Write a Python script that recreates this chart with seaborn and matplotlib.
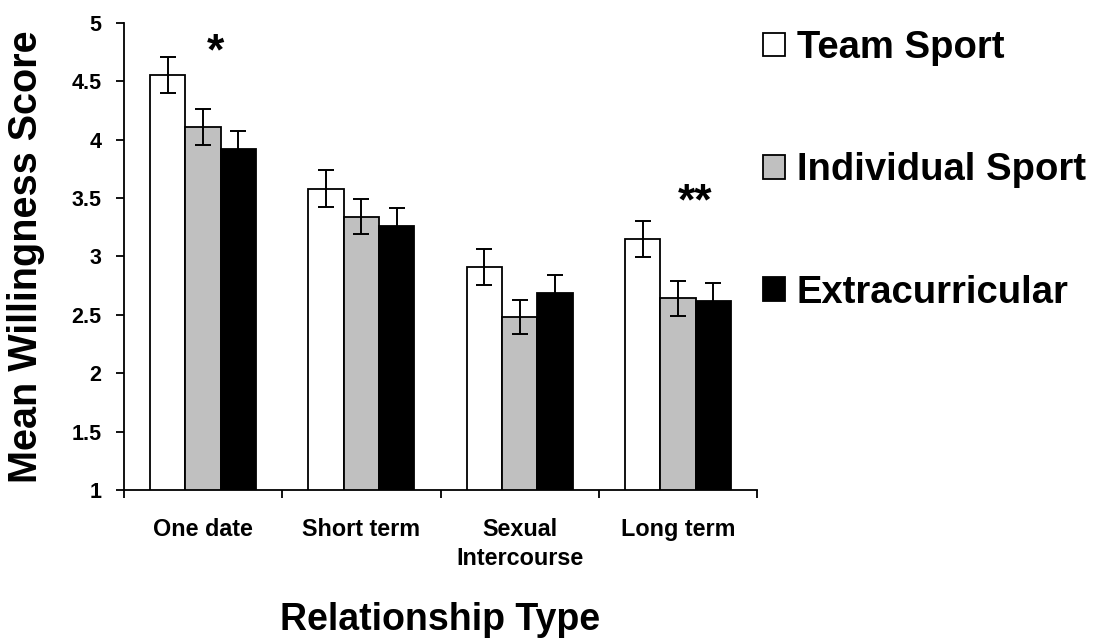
import matplotlib
matplotlib.use("Agg")
import matplotlib.pyplot as plt
import seaborn as sns
import pandas as pd
import numpy as np
from matplotlib.patches import Patch
from matplotlib.ticker import FixedLocator

categories = ["One date", "Short term", "Sexual\nIntercourse", "Long term"]
series = ["Team Sport", "Individual Sport", "Extracurricular"]
team_sport = [4.55, 3.58, 2.91, 3.15]
individual_sport = [4.11, 3.34, 2.48, 2.64]
extracurricular = [3.92, 3.26, 2.69, 2.62]
team_err = [0.155, 0.155, 0.155, 0.155]
individual_err = [0.154, 0.152, 0.145, 0.15]
extracurricular_err = [0.152, 0.152, 0.152, 0.152]
yticks = [1, 1.5, 2, 2.5, 3, 3.5, 4, 4.5, 5]
ytick_labels = ["1", "1.5", "2", "2.5", "3", "3.5", "4", "4.5", "5"]
colors = ["#FFFFFF", "#C0C0C0", "#000000"]

df = pd.DataFrame({
    "Relationship": categories * 3,
    "Group": [s for s in series for _ in categories],
    "Score": team_sport + individual_sport + extracurricular,
})
errs = [team_err, individual_err, extracurricular_err]

sns.set_theme(style="white")
plt.rcParams["font.family"] = ["Liberation Sans", "DejaVu Sans"]
plt.rcParams["font.weight"] = "bold"
for k in ["text.color", "axes.labelcolor", "xtick.color", "ytick.color"]:
    plt.rcParams[k] = "black"

fig = plt.figure(figsize=(10.95, 6.39), dpi=100)
ax = fig.add_axes([124 / 1095, 1 - 490 / 639, 633 / 1095, (490 - 22.7) / 639])

sns.barplot(data=df, x="Relationship", y="Score", hue="Group", order=categories,
            hue_order=series, palette=colors, width=0.67, gap=0, errorbar=None,
            edgecolor="black", linewidth=1.3, saturation=1, legend=False, ax=ax)

for cont, err in zip(ax.containers, errs):
    xs = [p.get_x() + p.get_width() / 2 for p in cont.patches]
    ys = [p.get_height() for p in cont.patches]
    ax.errorbar(xs, ys, yerr=err, fmt="none", ecolor="black", elinewidth=1.4,
                capsize=5.5, capthick=1.4, zorder=5)

ax.set_ylim(1, 5)
ax.set_xlim(-0.5, 3.5)
ax.set_yticks(yticks)
ax.set_yticklabels(ytick_labels)
sns.despine(ax=ax)
for s in ["left", "bottom"]:
    ax.spines[s].set_color("black")
    ax.spines[s].set_linewidth(1.3)

ax.tick_params(axis="y", which="major", direction="out", length=5.8, width=1.3,
               color="black", labelsize=15.5, pad=10.5, left=True)
ax.xaxis.set_minor_locator(FixedLocator([-0.5, 0.5, 1.5, 2.5, 3.5]))
ax.tick_params(axis="x", which="minor", direction="out", length=5.8, width=1.3,
               color="black", bottom=True)
ax.tick_params(axis="x", which="major", length=0, labelsize=16.8, pad=20)
for lab in ax.get_xticklabels():
    lab.set_linespacing(1.35)
    lab.set_fontweight("bold")
for lab in ax.get_yticklabels():
    lab.set_fontweight("bold")

ax.set_xlabel("Relationship Type", fontsize=27, fontweight="bold")
ax.set_ylabel("Mean Willingness Score", fontsize=28.5, fontweight="bold")
ax.xaxis.set_label_coords(0.5, -0.24)
ax.yaxis.set_label_coords(-0.125, 0.5)

ax.text(0.08, 4.74, "*", fontsize=32, fontweight="bold", ha="center", va="center")
ax.text(3.11, 3.46, "**", fontsize=32, fontweight="bold", ha="center", va="center")

handles = [Patch(facecolor=c, edgecolor="black", linewidth=1.3) for c in colors]
fig.legend(handles, series, loc="upper left", bbox_to_anchor=(763 / 1095, 1 - 30 / 639),
           frameon=False, handlelength=0.58, handleheight=0.58,
           handletextpad=0.3, labelspacing=2.26, borderpad=0, borderaxespad=0,
           prop={"weight": "bold", "size": 27.5})

fig.savefig("out.png", dpi=100, facecolor="white")
